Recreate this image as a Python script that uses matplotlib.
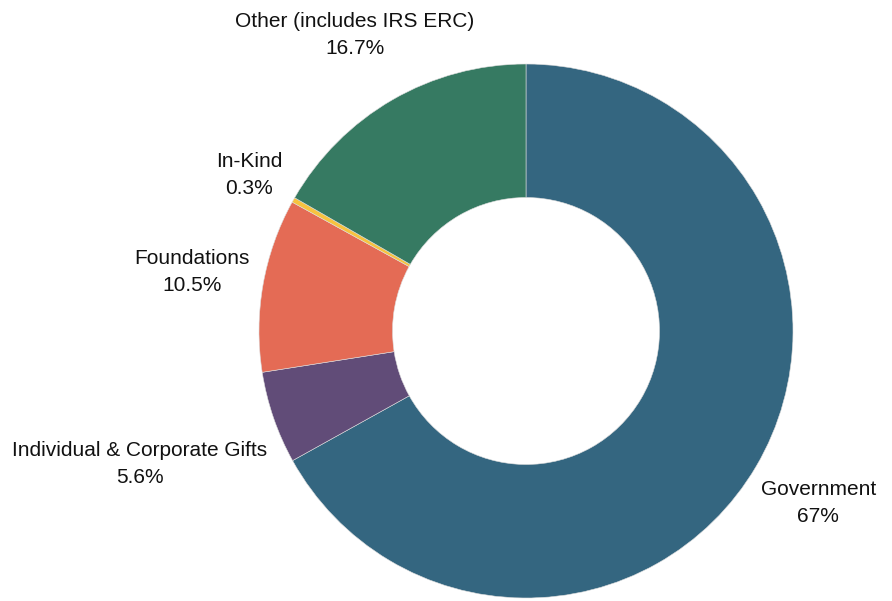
import numpy as np
import matplotlib
matplotlib.use("Agg")
import matplotlib.pyplot as plt

categories = ["Government", "Individual & Corporate Gifts", "Foundations", "In-Kind", "Other (includes IRS ERC)"]
values = [67.0, 5.6, 10.5, 0.3, 16.7]
value_labels = ["67%", "5.6%", "10.5%", "0.3%", "16.7%"]
colors = ["#346680", "#614c78", "#e46b55", "#f7c33f", "#367a62"]
label_dist = [1.27, 1.53, 1.27, 1.19, 1.28]

plt.rcParams['font.family'] = ['Liberation Sans', 'DejaVu Sans']

fig = plt.figure(figsize=(8.92, 6.01), dpi=100)
ax = fig.add_axes([0, 0, 1, 1])
cx, cy, R = 526, 331, 267

wedges, _ = ax.pie(values, colors=colors, startangle=90, counterclock=False,
                   radius=1.0, wedgeprops=dict(width=0.5, linewidth=0.4, edgecolor='#dddddd'))
ax.set_xlim(-cx / R, (892 - cx) / R)
ax.set_ylim(-(601 - cy) / R, cy / R)
ax.set_aspect('auto')
ax.axis('off')

for w, cat, vl, d in zip(wedges, categories, value_labels, label_dist):
    ang = np.deg2rad((w.theta1 + w.theta2) / 2)
    x, y = d * np.cos(ang), d * np.sin(ang)
    ax.text(x, y, f"{cat}\n{vl}", ha='center', va='center', fontsize=15,
            color='#111111', linespacing=1.5)

fig.savefig("out.png", dpi=100)
